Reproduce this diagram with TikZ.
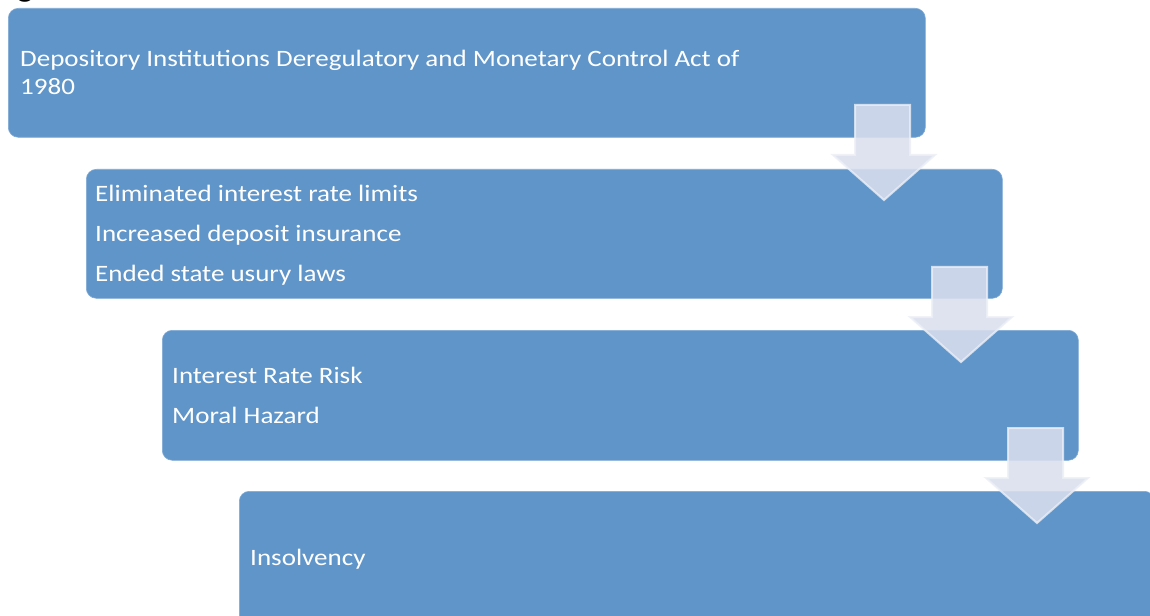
\documentclass[tikz,border=0pt]{standalone}
\usepackage{fontspec}
\setmainfont{Carlito}
\definecolor{boxblue}{RGB}{96,149,201}
\definecolor{boxedge}{RGB}{128,170,214}
\definecolor{arrowfill}{RGB}{218,223,238}
\definecolor{arrowedge}{RGB}{236,239,246}
\begin{document}
\begin{tikzpicture}[x=1bp,y=-1bp,
  box/.style={fill=boxblue,draw=boxedge,line width=0.6bp,rounded corners=10bp,anchor=north west,inner sep=0pt},
  txt/.style={text=white,anchor=base west,inner sep=0pt,xscale=1.15,transform shape,font=\fontsize{23.5bp}{28bp}\selectfont},
  arr/.style={fill=arrowfill,fill opacity=0.87,draw=arrowedge,draw opacity=0.8,line width=2bp,line join=miter}]
\useasboundingbox (0,0) rectangle (1150,616);
% partial title glyph at top
\node[anchor=base west,inner sep=0pt,font=\fontsize{34bp}{40bp}\selectfont\bfseries] (title) at (17,-3) {g};
% boxes
\node[box,minimum width=917bp,minimum height=129bp] (b1) at (8,8) {};
\node[box,minimum width=916bp,minimum height=129bp] (b2) at (86,169) {};
\node[box,minimum width=916bp,minimum height=130bp] (b3) at (162,330) {};
\node[box,minimum width=915bp,minimum height=140bp] (b4) at (239,491) {};
% texts
\node[txt] (t1a) at (20,67) {Depository Institutions Deregulatory and Monetary Control Act of};
\node[txt] (t1b) at (20,95) {1980};
\node[txt] (t2a) at (95,202) {Eliminated interest rate limits};
\node[txt] (t2b) at (95,242) {Increased deposit insurance};
\node[txt] (t2c) at (95,282) {Ended state usury laws};
\node[txt] (t3a) at (172,383) {Interest Rate Risk};
\node[txt] (t3b) at (172,423) {Moral Hazard};
\node[txt] (t4a) at (250,565) {Insolvency};
% arrows between boxes
\foreach \dx/\dy in {0/0, 77/162, 153/323}{
  \draw[arr] (855+\dx,105+\dy) -- (910+\dx,105+\dy) -- (910+\dx,155+\dy) -- (935+\dx,155+\dy)
    -- (884+\dx,200+\dy) -- (833+\dx,155+\dy) -- (855+\dx,155+\dy) -- cycle;
}
\end{tikzpicture}
\end{document}
